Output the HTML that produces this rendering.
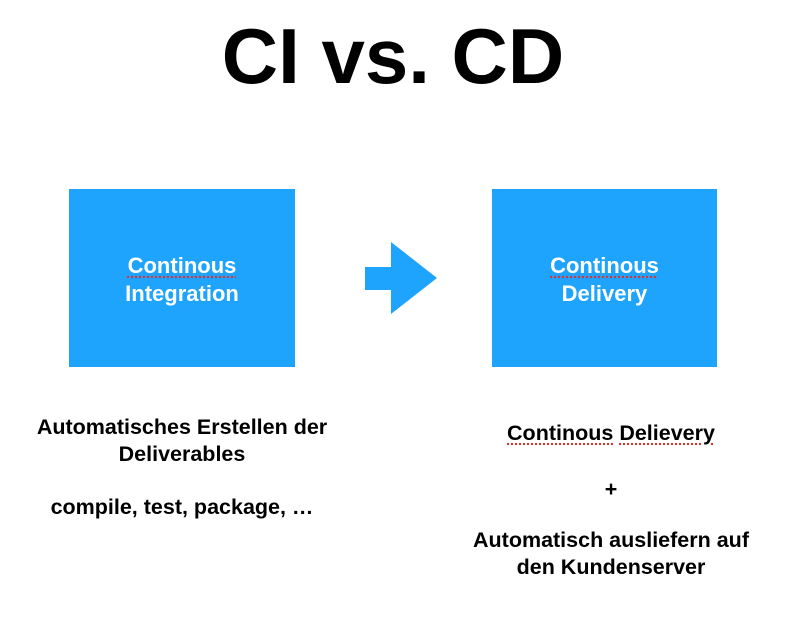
<!DOCTYPE html>
<html><head><style>
body{margin:0;width:786px;height:628px;background:#fff;position:relative;font-family:"Liberation Sans",Arial,sans-serif;overflow:hidden}
.t{position:absolute;left:0;width:786px;text-align:center;top:8px;font-size:78px;font-weight:bold;line-height:96px;color:#000}
.box{position:absolute;background:#1ea4fd;color:#fff;font-weight:bold;font-size:22px;line-height:28px;display:flex;align-items:center;justify-content:center;text-align:center}
.u{text-decoration:underline dotted #e03030;text-underline-offset:3px}
.l{position:absolute;font-weight:bold;font-size:21.5px;color:#000;text-align:center;line-height:27px}
</style></head><body>
<div class="t">CI vs. CD</div>
<div class="box" style="left:69px;top:189px;width:226px;height:178px"><div style="margin-top:4px"><span class="u">Continous</span><br>Integration</div></div>
<div class="box" style="left:492px;top:189px;width:225px;height:178px"><div style="margin-top:4px"><span class="u">Continous</span><br>Delivery</div></div>
<svg style="position:absolute;left:0;top:0" width="786" height="628"><polygon points="365,267 391,267 391,242 437,278 391,314 391,290 365,290" fill="#1ea4fd"/></svg>
<div class="l" style="left:0;width:364px;top:414px">Automatisches Erstellen der<br>Deliverables</div>
<div class="l" style="left:0;width:364px;top:494px">compile, test, package, …</div>
<div class="l" style="left:418px;width:386px;top:420px"><span class="u">Continous</span> <span class="u">Delievery</span></div>
<div class="l" style="left:418px;width:386px;top:476px">+</div>
<div class="l" style="left:418px;width:386px;top:527px">Automatisch ausliefern auf<br>den Kundenserver</div>
</body></html>
